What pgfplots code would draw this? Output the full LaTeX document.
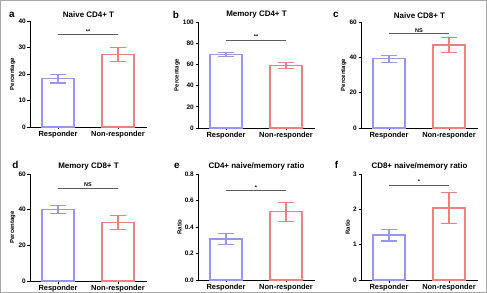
\documentclass[border=0pt]{standalone}
\usepackage{fontspec}
\setmainfont{Liberation Sans}
\usepackage{pgfplots}
\pgfplotsset{compat=1.18}

\definecolor{resp}{RGB}{150,150,240}
\definecolor{nonresp}{RGB}{238,128,128}
\definecolor{sigline}{RGB}{90,90,90}

\pgfplotsset{
  panel/.style={
    scale only axis, width=117bp, height=106bp, anchor=south west,
    axis x line*=bottom, axis y line*=left,
    xmin=-0.467, xmax=1.483, ymin=0,
    xtick={0,1}, xticklabels={Responder,Non-responder},
    tick align=outside, major tick length=2.5bp,
    tick style={black, line width=0.6bp},
    axis line style={black, line width=0.8bp},
    /pgf/number format/assume math mode=true,
    yticklabel style={font=\bfseries\fontsize{6.5}{7}\selectfont, inner sep=1.5bp},
    xticklabel style={font=\bfseries\fontsize{7.5}{8}\selectfont, inner sep=1.5bp},
    title style={font=\bfseries\fontsize{8}{9}\selectfont, yshift=-6bp},
    ylabel style={font=\bfseries\fontsize{6}{7}\selectfont, inner sep=1.5bp},
    bar width=0.53, clip=false,
  },
  barR/.style={ybar, bar shift=0pt, draw=resp, fill=white, line width=1.3bp,
    error bars/.cd, y dir=both, y explicit,
    error bar style={resp, line width=1.1bp},
    error mark options={resp, mark size=8bp, line width=1.1bp, rotate=90}},
  barN/.style={ybar, bar shift=0pt, draw=nonresp, fill=white, line width=1.3bp,
    error bars/.cd, y dir=both, y explicit,
    error bar style={nonresp, line width=1.1bp},
    error mark options={nonresp, mark size=8bp, line width=1.1bp, rotate=90}},
  sig/.style={sigline, line width=0.8bp, forget plot},
}
\newcommand{\sigtext}[1]{node[pos=0.5, above, inner sep=0.8bp, font=\bfseries\fontsize{5.5}{6}\selectfont, black]{#1}}

\begin{document}
\begin{tikzpicture}
\useasboundingbox (0,0) rectangle (487bp,293bp);
\draw[gray!70, line width=0.8bp] (0.5bp,0.5bp) rectangle (486.5bp,292.5bp);

% a: naive CD4+ T
\begin{axis}[panel, at={(30bp,166bp)}, ymax=40, ytick={0,10,20,30,40},
  title={Naive CD4+ T}, ylabel={Percentage}]
\addplot[barR] coordinates {(0,18.2) +- (0,1.6)};
\addplot[barN] coordinates {(1,27.4) +- (0,2.6)};
\addplot[sig] coordinates {(0,35) (1,35)} \sigtext{**};
\end{axis}

% b: memory CD4+ T
\begin{axis}[panel, at={(198bp,165bp)}, ymax=100, ytick={0,20,40,60,80,100},
  title={Memory CD4+ T}, ylabel={Percentage}]
\addplot[barR] coordinates {(0,69.3) +- (0,1.9)};
\addplot[barN] coordinates {(1,59.0) +- (0,3.1)};
\addplot[sig] coordinates {(0,83) (1,83)} \sigtext{**};
\end{axis}

% c: naive CD8+ T
\begin{axis}[panel, at={(361bp,165bp)}, ymax=60, ytick={0,20,40,60},
  title={Naive CD8+ T}, ylabel={Percentage}]
\addplot[barR] coordinates {(0,39.2) +- (0,2.0)};
\addplot[barN] coordinates {(1,47.0) +- (0,4.3)};
\addplot[sig] coordinates {(0,53.4) (1,53.4)} \sigtext{NS};
\end{axis}

% d: memory CD8+ T
\begin{axis}[panel, at={(30bp,12bp)}, height=107bp, ymax=60, ytick={0,20,40,60},
  title={Memory CD8+ T}, ylabel={Percentage}]
\addplot[barR] coordinates {(0,40.2) +- (0,2.1)};
\addplot[barN] coordinates {(1,32.9) +- (0,3.9)};
\addplot[sig] coordinates {(0,52.2) (1,52.2)} \sigtext{NS};
\end{axis}

% e: CD4+ naive/memory ratio
\begin{axis}[panel, at={(198bp,13bp)}, ymax=0.8, ytick={0,0.2,0.4,0.6,0.8},
  yticklabel style={/pgf/number format/.cd, fixed, fixed zerofill, precision=1},
  title={CD4+ naive/memory ratio}, ylabel={Ratio}]
\addplot[barR] coordinates {(0,0.309) +- (0,0.042)};
\addplot[barN] coordinates {(1,0.515) +- (0,0.071)};
\addplot[sig] coordinates {(0,0.677) (1,0.677)} \sigtext{*};
\end{axis}

% f: CD8+ naive/memory ratio
\begin{axis}[panel, at={(361bp,13bp)}, ymax=3, ytick={0,1,2,3},
  title={CD8+ naive/memory ratio}, ylabel={Ratio}]
\addplot[barR] coordinates {(0,1.27) +- (0,0.165)};
\addplot[barN] coordinates {(1,2.04) +- (0,0.44)};
\addplot[sig] coordinates {(0,2.69) (1,2.69)} \sigtext{*};
\end{axis}

% panel letters
\begin{scope}[every node/.style={font=\bfseries\fontsize{10}{11}\selectfont}]
\node at (12bp,278bp) {a};
\node at (176bp,278bp) {b};
\node at (336bp,278bp) {c};
\node at (15.5bp,128bp) {d};
\node at (177bp,127bp) {e};
\node at (336.5bp,128bp) {f};
\end{scope}
\end{tikzpicture}
\end{document}
